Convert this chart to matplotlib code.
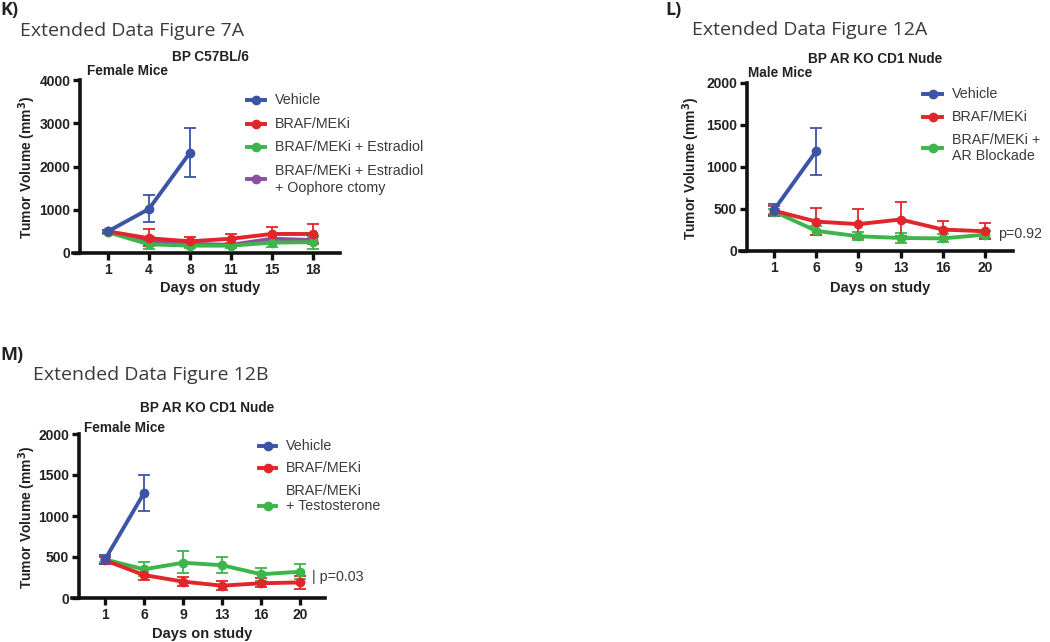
import numpy as np
import matplotlib
matplotlib.use("Agg")
import matplotlib.pyplot as plt
from matplotlib.lines import Line2D

# ---- data ----
# K) Extended Data Figure 7A
k_days = ["1", "4", "8", "11", "15", "18"]
k_vehicle = [500, 1020, 2320]
k_vehicle_lo = [470, 720, 1750]
k_vehicle_hi = [540, 1330, 2890]
k_braf = [500, 340, 270, 330, 440, 440]
k_braf_lo = [470, 170, 180, 230, 300, 220]
k_braf_hi = [530, 560, 370, 450, 600, 680]
k_estr = [480, 200, 170, 170, 240, 250]
k_estr_lo = [450, 100, 110, 120, 150, 100]
k_estr_hi = [510, 300, 240, 230, 330, 360]
k_ooph = [490, 260, 210, 190, 330, 300]
k_ooph_lo = [460, 160, 150, 140, 250, 200]
k_ooph_hi = [520, 360, 270, 240, 410, 400]

# L) Extended Data Figure 12A
l_days = ["1", "6", "9", "13", "16", "20"]
l_vehicle = [490, 1190]
l_vehicle_lo = [420, 910]
l_vehicle_hi = [560, 1470]
l_braf = [480, 350, 320, 375, 255, 235]
l_braf_lo = [430, 190, 150, 180, 150, 140]
l_braf_hi = [530, 510, 500, 585, 360, 335]
l_arb = [470, 240, 175, 155, 150, 195]
l_arb_lo = [440, 185, 130, 100, 110, 150]
l_arb_hi = [500, 300, 230, 210, 200, 240]

# M) Extended Data Figure 12B
m_days = ["1", "6", "9", "13", "16", "20"]
m_vehicle = [470, 1280]
m_vehicle_lo = [410, 1060]
m_vehicle_hi = [530, 1500]
m_braf = [460, 280, 200, 150, 180, 190]
m_braf_lo = [420, 220, 150, 100, 130, 110]
m_braf_hi = [500, 350, 260, 210, 240, 270]
m_test = [470, 350, 430, 400, 290, 320]
m_test_lo = [440, 270, 300, 300, 210, 230]
m_test_hi = [500, 440, 570, 500, 370, 410]

BLUE = "#3b54a5"
RED = "#e0262b"
GREEN = "#3db54a"
PURPLE = "#8d4f9f"
TXT = "#3a3a3a"
TICKFS = 10

W, H = 1050, 642
fig = plt.figure(figsize=(W / 100, H / 100), dpi=100)
bold = dict(family="Liberation Sans", weight="bold", color="#222222")


def fx(x):
    return x / W


def fy(y):
    return 1 - y / H


def make_axes(left, right, top, bottom, xlim, spine_x, ymax, yticks, days):
    ax = fig.add_axes([fx(left), fy(bottom), fx(right - left), (bottom - top) / H])
    ax.set_xlim(*xlim)
    ax.set_ylim(0, ymax)
    ax.spines["top"].set_visible(False)
    ax.spines["right"].set_visible(False)
    ax.spines["left"].set_position(("data", spine_x))
    for s in ("left", "bottom"):
        ax.spines[s].set_linewidth(2.6)
        ax.spines[s].set_color("#111111")
    ax.set_yticks(yticks)
    ax.set_xticks(range(len(days)))
    ax.set_xticklabels(days)
    ax.tick_params(width=2.4, length=5, color="#111111", pad=2)
    for lab in ax.get_xticklabels() + ax.get_yticklabels():
        lab.set_fontfamily("Liberation Sans")
        lab.set_fontweight("bold")
        lab.set_fontsize(TICKFS)
        lab.set_color("#222222")
    ax.patch.set_alpha(0)
    return ax


def series(ax, y, lo, hi, color):
    x = np.arange(len(y))
    y = np.array(y)
    err = [y - np.array(lo), np.array(hi) - y]
    ax.errorbar(x, y, yerr=err, color=color, lw=2.8, marker="o", ms=6,
                elinewidth=1.3, capsize=4, capthick=1.3, zorder=3)


def legend_row(x0, x1, ym, color):
    fig.add_artist(Line2D([fx(x0), fx(x1)], [fy(ym), fy(ym)], color=color, lw=2.8,
                          transform=fig.transFigure))
    fig.add_artist(Line2D([fx((x0 + x1) / 2)], [fy(ym)], color=color, marker="o", ms=6,
                          transform=fig.transFigure))


def leg_text(x, y, s):
    fig.text(fx(x), fy(y), s, family="Liberation Sans", fontsize=10.3, color=TXT,
             va="center", ha="left")


def titles(tag, tagx, tagy, title, tx, ty, sub, sx, sy, sex, ex, ey):
    fig.text(fx(tagx), fy(tagy), tag, family="Open Sans", weight="bold", fontsize=13,
             color="#222222", va="center", ha="left")
    fig.text(fx(tx), fy(ty), title, family="Open Sans", fontsize=14, color=TXT,
             va="center", ha="left")
    fig.text(fx(sx), fy(sy), sub, fontsize=9.8, va="center", ha="center", **bold)
    fig.text(fx(ex), fy(ey), sex, fontsize=9.8, va="center", ha="left", **bold)


def axis_labels(ylx, yly, xlx, xly):
    fig.text(fx(ylx), fy(yly), "Tumor Volume (mm$^\\mathbf{3}$)", fontsize=10, rotation=90,
             va="center", ha="center", **bold)
    fig.text(fx(xlx), fy(xly), "Days on study", fontsize=10.5, va="center", ha="center", **bold)


# ---- K ----
axk = make_axes(73, 340, 80, 253, (-0.854, 5.66), -0.683, 4000,
                [0, 1000, 2000, 3000, 4000], k_days)
series(axk, k_ooph, k_ooph_lo, k_ooph_hi, PURPLE)
series(axk, k_estr, k_estr_lo, k_estr_hi, GREEN)
series(axk, k_braf, k_braf_lo, k_braf_hi, RED)
series(axk, k_vehicle, k_vehicle_lo, k_vehicle_hi, BLUE)
titles("K)", 0, 10, "Extended Data Figure 7A", 20, 31, "BP C57BL/6", 210, 57,
       "Female Mice", 87, 71)
axis_labels(27, 167, 210, 288)
legend_row(247, 265, 100, BLUE)
leg_text(275, 100, "Vehicle")
legend_row(247, 265, 124, RED)
leg_text(275, 124, "BRAF/MEKi")
legend_row(247, 265, 147, GREEN)
leg_text(275, 147, "BRAF/MEKi + Estradiol")
legend_row(247, 265, 179, PURPLE)
leg_text(275, 171, "BRAF/MEKi + Estradiol")
leg_text(275, 188, "+ Oophore ctomy")

# ---- L ----
axl = make_axes(740, 1013, 83, 251, (-0.806, 5.66), -0.64, 2000,
                [0, 500, 1000, 1500, 2000], l_days)
series(axl, l_arb, l_arb_lo, l_arb_hi, GREEN)
series(axl, l_braf, l_braf_lo, l_braf_hi, RED)
series(axl, l_vehicle, l_vehicle_lo, l_vehicle_hi, BLUE)
titles("L)", 665, 10, "Extended Data Figure 12A", 692, 30, "BP AR KO CD1 Nude", 875, 59,
       "Male Mice", 748, 73)
axis_labels(691, 168, 880, 288)
legend_row(923, 942, 94, BLUE)
leg_text(952, 94, "Vehicle")
legend_row(923, 942, 117, RED)
leg_text(952, 117, "BRAF/MEKi")
legend_row(923, 942, 148, GREEN)
leg_text(952, 140, "BRAF/MEKi +")
leg_text(952, 156, "AR Blockade")
fig.text(fx(998), fy(234), "p=0.92", family="Liberation Sans", fontsize=10.3, color=TXT,
         va="center", ha="left")

# ---- M ----
axm = make_axes(72, 325, 434, 598, (-0.846, 5.64), -0.667, 2000,
                [0, 500, 1000, 1500, 2000], m_days)
series(axm, m_test, m_test_lo, m_test_hi, GREEN)
series(axm, m_braf, m_braf_lo, m_braf_hi, RED)
series(axm, m_vehicle, m_vehicle_lo, m_vehicle_hi, BLUE)
titles("M)", 0, 355, "Extended Data Figure 12B", 33, 375, "BP AR KO CD1 Nude", 207, 408,
       "Female Mice", 84, 428)
axis_labels(27, 517, 202, 634)
legend_row(259, 276, 446, BLUE)
leg_text(286, 446, "Vehicle")
legend_row(259, 276, 468, RED)
leg_text(286, 468, "BRAF/MEKi")
legend_row(259, 276, 506, GREEN)
leg_text(286, 491, "BRAF/MEKi")
leg_text(286, 506, "+ Testosterone")
fig.text(fx(312), fy(577), "| p=0.03", family="Liberation Sans", fontsize=10.3, color=TXT,
         va="center", ha="left")

fig.savefig("out.png", dpi=100)
